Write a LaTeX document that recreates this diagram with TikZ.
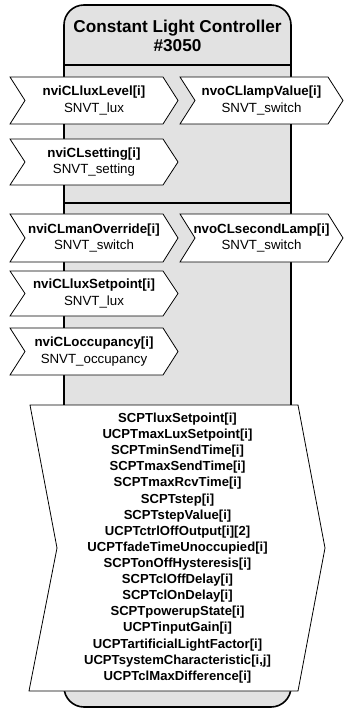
\documentclass[tikz,border=0pt]{standalone}
\usepackage{fontspec}
\setmainfont{Liberation Sans}
\definecolor{bodygray}{RGB}{226,226,226}
\tikzset{
  bodyline/.style={draw=black, line width=1.6pt, fill=bodygray},
  boxline/.style={draw=black, line width=0.8pt, fill=white, line join=miter},
  boxtext/.style={align=center, inner sep=0pt, font=\fontsize{13.3}{16.5}\selectfont},
  cfgtext/.style={align=center, inner sep=0pt, font=\fontsize{13.1}{16.12}\selectfont\bfseries},
  headtext/.style={align=center, inner sep=0pt, font=\fontsize{17.2}{19}\selectfont\bfseries}
}
% name, xleft, xtip, ytop, ybot, depth, text
\newcommand\chevbox[7]{%
  \draw[boxline] ({#2},{#4}) -- ({#3-#6},{#4}) -- ({#3},{(#4+#5)/2}) -- ({#3-#6},{#5})
    -- ({#2},{#5}) -- ({#2+#6},{(#4+#5)/2}) -- cycle;
  \node[boxtext] (#1) at ({(#2+#3)/2},{(#4+#5)/2}) {#7};
}
\begin{document}
\begin{tikzpicture}[x=1pt,y=-1pt]
\useasboundingbox (0,0) rectangle (343,711);
% main body
\draw[bodyline, rounded corners=20pt] (64,5) rectangle (291,707);
\coordinate (hdL) at (64,65);
\coordinate (hdR) at (291,65);
\draw[line width=1.6pt] (hdL) -- (hdR);
\coordinate (dvL) at (64,203);
\coordinate (dvR) at (291,203);
\draw[line width=1.6pt] (dvL) -- (dvR);
\node[headtext] (title) at (177.5,36) {Constant Light Controller\\\#3050};
% network variables
\chevbox{lux}{10}{178}{77}{124}{15}{\textbf{nviCLluxLevel[i]}\\SNVT\_lux}
\chevbox{lamp}{180}{343}{77}{124}{15}{\textbf{nvoCLlampValue[i]}\\SNVT\_switch}
\chevbox{setting}{10}{178}{139}{185}{15}{\textbf{nviCLsetting[i]}\\SNVT\_setting}
\chevbox{override}{10}{178}{214}{262}{15}{\textbf{nviCLmanOverride[i]}\\SNVT\_switch}
\chevbox{second}{180}{343}{214}{262}{15}{\textbf{nvoCLsecondLamp[i]}\\SNVT\_switch}
\chevbox{setpoint}{10}{178}{271}{316}{15}{\textbf{nviCLluxSetpoint[i]}\\SNVT\_lux}
\chevbox{occ}{10}{178}{328}{375}{15}{\textbf{nviCLoccupancy[i]}\\SNVT\_occupancy}
% configuration properties
\draw[boxline] (30,405) -- (298,405) -- (325,548) -- (298,691) -- (29,691) -- (57,548) -- cycle;
\node[cfgtext] (cfg) at (177.5,548) {SCPTluxSetpoint[i]\\UCPTmaxLuxSetpoint[i]\\SCPTminSendTime[i]\\SCPTmaxSendTime[i]\\SCPTmaxRcvTime[i]\\SCPTstep[i]\\SCPTstepValue[i]\\UCPTctrlOffOutput[i][2]\\UCPTfadeTimeUnoccupied[i]\\SCPTonOffHysteresis[i]\\SCPTclOffDelay[i]\\SCPTclOnDelay[i]\\SCPTpowerupState[i]\\UCPTinputGain[i]\\UCPTartificialLightFactor[i]\\UCPTsystemCharacteristic[i,j]\\UCPTclMaxDifference[i]};
\end{tikzpicture}
\end{document}
